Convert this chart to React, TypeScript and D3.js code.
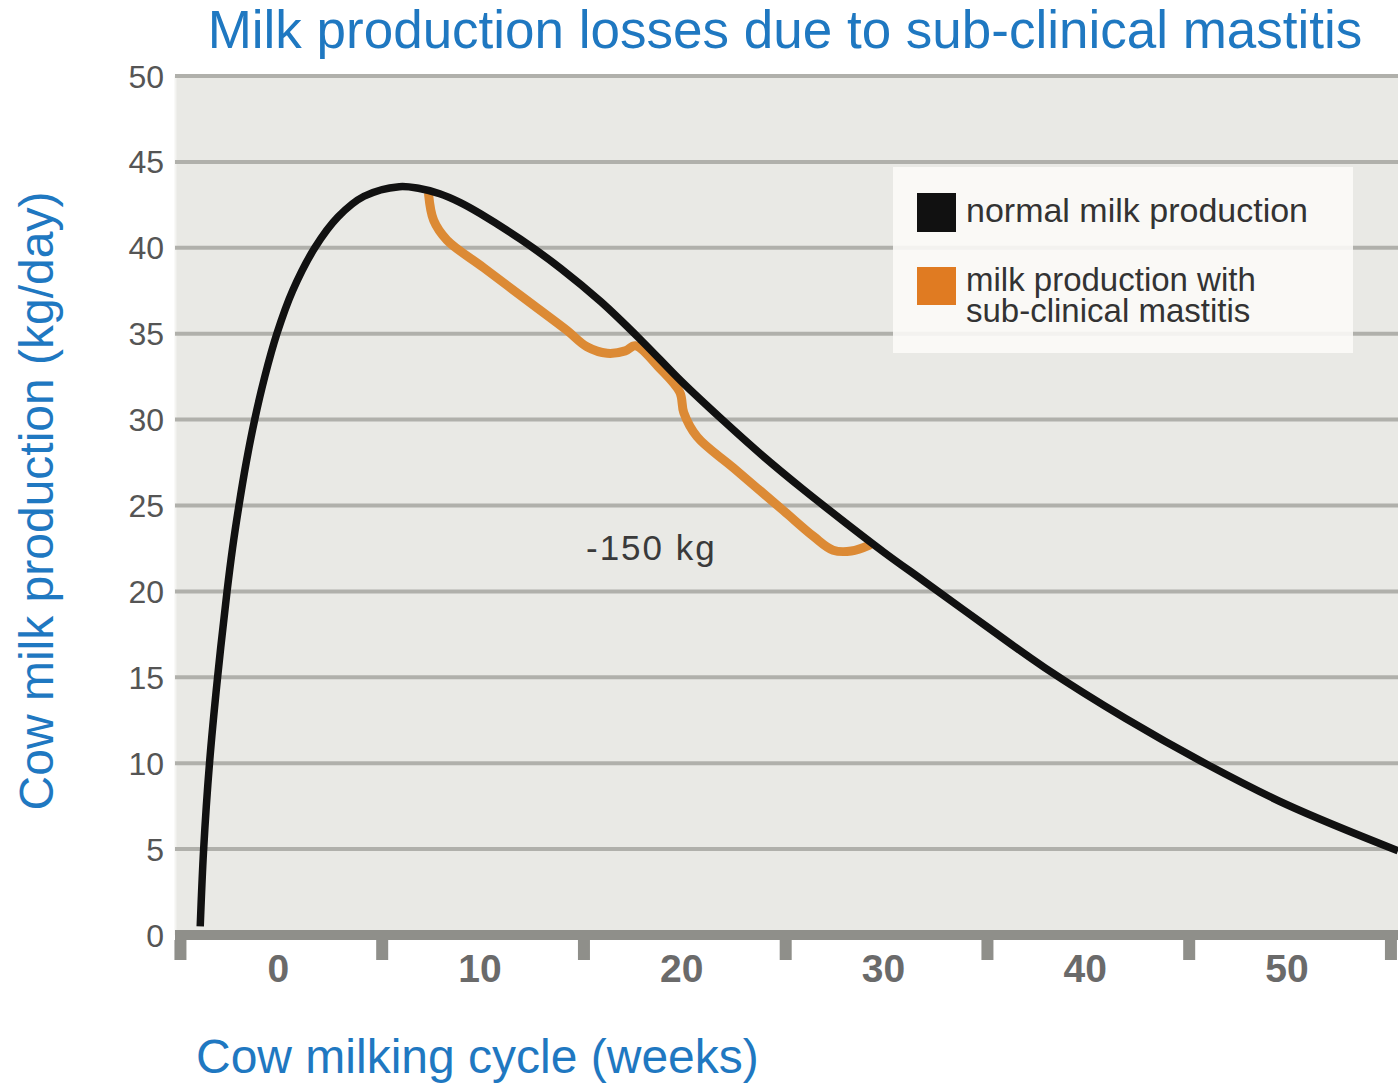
import React from "react";
import { scaleLinear, line, curveCatmullRom, range } from "d3";

// normal lactation curve
const normalWeeks = [-3.87, -3.7, -3.41, -3.01, -2.54, -2.27, -1.95, -1.59, -1.17, -0.67, -0.07, 0.71, 1.81, 2.96, 4.25, 6.0, 7, 8, 9, 10, 12, 14, 16, 18, 20, 22, 24, 26, 28, 30, 32, 35, 38, 42, 46, 50, 55.5];
const normalValues = [0.5, 5, 10, 15, 20, 22.5, 25, 27.5, 30, 32.5, 35, 37.5, 40, 41.8, 43.0, 43.56, 43.45, 43.15, 42.65, 42.0, 40.5, 38.8, 36.85, 34.6, 32.2, 30.0, 27.9, 25.95, 24.1, 22.3, 20.6, 18.05, 15.55, 12.6, 9.95, 7.58, 4.9];

// production with sub-clinical mastitis (two dips)
const mastitisWeeks = [7.45, 7.7, 8.36, 10.18, 12.66, 14.3, 15.3, 16.3, 17.2, 17.7, 18.9, 19.9, 20.1, 20.76, 22.56, 25.04, 26.53, 27.5, 28.4, 29.3];
const mastitisValues = [43.1, 41.6, 40.45, 38.84, 36.65, 35.2, 34.24, 33.86, 34.0, 34.3, 33.0, 31.6, 30.4, 29.0, 27.19, 24.7, 23.2, 22.4, 22.35, 22.7];

const yTicks = range(0, 51, 5);
const xTickLabels = [0, 10, 20, 30, 40, 50];
const xTickMarks = [-10, 0, 10, 20, 30, 40, 50];

const legendLabels = ["normal milk production", "milk production with", "sub-clinical mastitis"];

const W = 1398;
const H = 1083;
const FONT = "'Liberation Sans', Arial, Helvetica, sans-serif";

const App = () => {
  const x = scaleLinear().domain([-5.12, 55.5]).range([175, 1398]);
  const y = scaleLinear().domain([0, 50]).range([935, 76]);

  const path = line<[number, number]>()
    .x((d) => x(d[0]))
    .y((d) => y(d[1]))
    .curve(curveCatmullRom.alpha(0.5));

  const normal = normalWeeks.map((w, i) => [w, normalValues[i]] as [number, number]);
  const mastitis = mastitisWeeks.map((w, i) => [w, mastitisValues[i]] as [number, number]);

  return (
    <div style={{ position: "absolute", left: 0, top: 0 }}>
      <svg width={W} height={H} style={{ display: "block", background: "#fff" }} fontFamily={FONT}>
        <text x={785} y={48} textAnchor="middle" fontSize={53} fill="#1f78c1">
          Milk production losses due to sub-clinical mastitis
        </text>

        {/* plot background */}
        <rect x={x(-5.12)} y={y(50)} width={x(55.5) - x(-5.12)} height={y(0) - y(50)} fill="#e9e9e5" />
        <line x1={x(-5.12) + 0.5} x2={x(-5.12) + 0.5} y1={y(50)} y2={y(0)} stroke="#f4f4f1" strokeWidth={2} />

        {/* grid + y labels */}
        {yTicks.map((t) => (
          <g key={t}>
            {t > 0 && (
              <line x1={x(-5.12)} x2={W} y1={y(t)} y2={y(t)} stroke="#b0b0ab" strokeWidth={4} />
            )}
            <text x={164} y={y(t)} dy="0.36em" textAnchor="end" fontSize={32} fill="#555">
              {t}
            </text>
          </g>
        ))}

        {/* x axis bar */}
        <rect x={x(-5.12)} y={y(0) - 5} width={W - x(-5.12)} height={10} fill="#8f8f8a" />
        {xTickMarks.map((t) => (
          <rect key={t} x={x(t + 5.15) - 6} y={y(0) + 5} width={12} height={20} fill="#8f8f8a" />
        ))}
        {xTickLabels.map((t) => (
          <text key={t} x={x(t)} y={982} textAnchor="middle" fontSize={39} fontWeight="bold" fill="#6a6a6a">
            {t}
          </text>
        ))}

        {/* legend */}
        <rect x={893} y={167} width={460} height={186} fill="#fcfbf8" opacity={0.88} />
        <rect x={917} y={193} width={39} height={39} fill="#111" />
        <rect x={917} y={267} width={39} height={38} fill="#e07b22" />
        <text x={966} y={222} fontSize={34} fill="#333">{legendLabels[0]}</text>
        <text x={966} y={291} fontSize={33} fill="#333">{legendLabels[1]}</text>
        <text x={966} y={322} fontSize={33} fill="#333">{legendLabels[2]}</text>

        {/* curves */}
        <path d={path(mastitis) || ""} fill="none" stroke="#dc8a35" strokeWidth={9} strokeLinejoin="round" strokeLinecap="round" />
        <path d={path(normal) || ""} fill="none" stroke="#111" strokeWidth={7.5} strokeLinejoin="round" />

        <text x={586} y={560} fontSize={35} letterSpacing={2} fill="#3a3a3a">-150 kg</text>

        {/* axis titles */}
        <text x={196} y={1073} fontSize={48} fill="#1f78c1">Cow milking cycle (weeks)</text>
        <text transform={`translate(53, ${501}) rotate(-90)`} textAnchor="middle" fontSize={48} fill="#1f78c1">
          Cow milk production (kg/day)
        </text>
      </svg>
    </div>
  );
};

export default App;
